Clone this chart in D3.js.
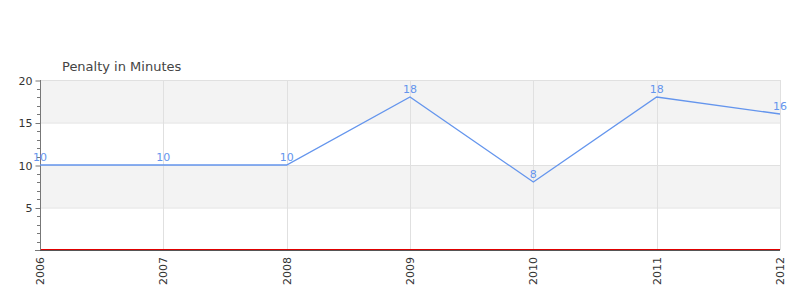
<!DOCTYPE html>
<html><head><meta charset="utf-8">
<script src="https://cdn.jsdelivr.net/npm/d3@7"></script>
<style>body{margin:0;background:#fff;font-family:"DejaVu Sans",sans-serif;}</style>
</head><body><svg id="c" width="800" height="300"></svg>
<script>
const years = ["2006","2007","2008","2009","2010","2011","2012"];
const penalty = [10,10,10,18,8,18,16];
const yTicks = [5,10,15,20];
const title = "Penalty in Minutes";

const svg = d3.select("#c");
const L=40,R=780,T=80,B=250;
const x = d3.scalePoint().domain(years).range([L,R]);
const y = d3.scaleLinear().domain([0,20]).range([B,T]);

// bands
const bands=[[15,20],[5,10]];
svg.selectAll("rect.band").data(bands).enter().append("rect")
  .attr("x",L).attr("width",R-L).attr("y",d=>y(d[1])).attr("height",d=>y(d[0])-y(d[1])).attr("fill","#f3f3f3");
// horizontal grid
svg.selectAll("line.hg").data(yTicks).enter().append("line")
  .attr("x1",L).attr("x2",R).attr("y1",d=>y(d)+0.5).attr("y2",d=>y(d)+0.5).attr("stroke","#e0e0e0");
// vertical grid
svg.selectAll("line.vg").data(years).enter().append("line")
  .attr("y1",T).attr("y2",B).attr("x1",d=>Math.round(x(d))+0.5).attr("x2",d=>Math.round(x(d))+0.5).attr("stroke","#e0e0e0");

// red baseline
svg.append("line").attr("x1",L).attr("x2",R).attr("y1",B-0.5).attr("y2",B-0.5).attr("stroke","#e00000").attr("stroke-width",1);

// y axis
const ya = d3.axisLeft(y).tickValues(yTicks).tickSize(5).tickPadding(3);
const gy = svg.append("g").attr("transform",`translate(${L+0.5},0.5)`).call(ya);
gy.select(".domain").remove();
gy.selectAll(".tick line").attr("stroke","#777");
gy.selectAll("text").attr("fill","#333").style("font-size","11px").style("font-family","DejaVu Sans");
const minor = d3.range(1,20).filter(v=>v%5!==0);
svg.selectAll("line.mt").data(minor).enter().append("line")
  .attr("x1",L-3).attr("x2",L).attr("y1",d=>Math.round(y(d))+0.5).attr("y2",d=>Math.round(y(d))+0.5).attr("stroke","#777");
svg.append("line").attr("x1",L+0.5).attr("x2",L+0.5).attr("y1",T).attr("y2",B+1).attr("stroke","#777");
svg.append("line").attr("x1",L-5).attr("x2",L).attr("y1",B+0.5).attr("y2",B+0.5).attr("stroke","#777");

// x axis
svg.append("line").attr("x1",L).attr("x2",R).attr("y1",B+0.5).attr("y2",B+0.5).attr("stroke","#555");
svg.selectAll("text.xl").data(years).enter().append("text")
  .attr("transform",d=>`translate(${x(d)+4},${B+7}) rotate(-90)`)
  .attr("text-anchor","end").attr("fill","#333").style("font-size","11px").text(d=>d);

// line
const data = years.map((yr,i)=>({yr,v:penalty[i]}));
svg.append("path").datum(data).attr("fill","none").attr("stroke","#6495ed").attr("stroke-width",1.3)
  .attr("d",d3.line().x(d=>x(d.yr)).y(d=>y(d.v)));
svg.selectAll("text.lbl").data(data).enter().append("text")
  .attr("x",d=>x(d.yr)).attr("y",d=>y(d.v)-4).attr("text-anchor","middle")
  .attr("fill","#6495ed").style("font-size","11px").text(d=>d.v);

svg.append("text").attr("x",62).attr("y",71).attr("fill","#444").style("font-size","13px").text(title);
</script></body></html>
